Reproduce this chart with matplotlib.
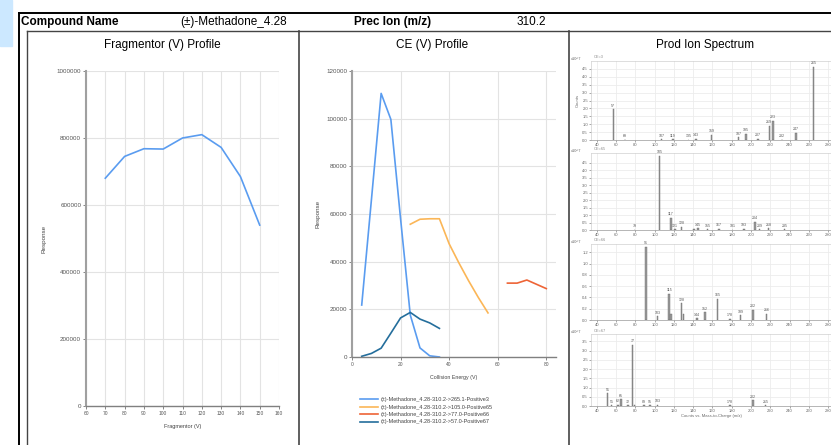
import numpy as np
import matplotlib.pyplot as plt
from matplotlib.lines import Line2D
from matplotlib.patches import Rectangle

plt.rcParams['font.family'] = ['Liberation Sans', 'DejaVu Sans']

W, H = 831, 445

# header
compound = "(±)-Methadone_4.28"
prec_ion = "310.2"

# fragmentor profile
frag_v = [70, 80, 90, 100, 110, 120, 130, 140, 150]
frag_resp = [680000, 745000, 768000, 767000, 800000, 810000, 772000, 685000, 540000]

# CE profiles
ce_names = ["(±)-Methadone_4.28-310.2->265.1-Positive3",
            "(±)-Methadone_4.28-310.2->105.0-Positive65",
            "(±)-Methadone_4.28-310.2->77.0-Positive66",
            "(±)-Methadone_4.28-310.2->57.0-Positive67"]
ce_x = [[4, 8, 12, 16, 20, 24, 28, 32, 36],
        [24, 28, 32, 36, 40, 44, 48, 52, 56],
        [64, 68, 72, 76, 80],
        [4, 8, 12, 16, 20, 24, 28, 32, 36]]
ce_y = [[21800, 66000, 110600, 99700, 58000, 17600, 3800, 500, 0],
        [55700, 57800, 58000, 58000, 47500, 39500, 32000, 25000, 18500],
        [31000, 31000, 32300, 30500, 28700],
        [300, 1500, 3700, 10000, 16400, 18700, 15900, 14300, 12000]]
ce_colors = ["#5a9cf0", "#fbb657", "#ee6436", "#246e9c"]

# product ion spectra (x10^7 counts)
s1_mz = [57, 69, 107, 119, 135, 143, 159, 187, 195, 207, 219, 223, 232, 247, 265]
s1_int = [1.95, 0.03, 0.05, 0.05, 0.03, 0.06, 0.34, 0.17, 0.40, 0.06, 0.89, 1.23, 0.03, 0.45, 4.65]
s2_mz = [79, 105, 117, 121, 128, 141, 145, 155, 167, 181, 193, 204, 209, 218, 235]
s2_int = [0.03, 4.95, 0.82, 0.06, 0.22, 0.08, 0.12, 0.04, 0.10, 0.03, 0.08, 0.55, 0.05, 0.12, 0.04]
s3_mz = [91, 103, 115, 117, 128, 130, 144, 152, 165, 178, 189, 202, 216]
s3_int = [1.30, 0.07, 0.47, 0.10, 0.30, 0.10, 0.03, 0.14, 0.38, 0.02, 0.08, 0.18, 0.11]
s4_mz = [51, 55, 62, 65, 72, 77, 79, 89, 95, 103, 178, 202, 215]
s4_int = [0.69, 0.03, 0.08, 0.38, 0.04, 3.31, 0.05, 0.04, 0.04, 0.06, 0.03, 0.31, 0.05]
# peaks that carry a label in each spectrum
s1_lab = [57, 69, 107, 119, 135, 143, 159, 187, 195, 207, 219, 223, 232, 247, 265]
s2_lab = [79, 105, 117, 121, 128, 145, 155, 167, 181, 193, 204, 209, 218, 235]
s3_lab = [91, 103, 115, 128, 144, 152, 165, 178, 189, 202, 216]
s4_lab = [51, 55, 62, 65, 72, 77, 89, 95, 103, 178, 202, 215]
spectra = [(s1_mz, s1_int, s1_lab, "CE=3", np.arange(0, 5.0, 0.5), 5.0),
           (s2_mz, s2_int, s2_lab, "CE=65", np.arange(0, 5.0, 0.5), 5.15),
           (s3_mz, s3_int, s3_lab, "CE=66", np.arange(0, 1.3, 0.2), 1.35),
           (s4_mz, s4_int, s4_lab, "CE=67", np.arange(0, 4.0, 0.5), 3.9)]


def box(x0, y0, x1, y1):
    return [x0 / W, 1 - y1 / H, (x1 - x0) / W, (y1 - y0) / H]


def fx(x):
    return x / W


def fy(y):
    return 1 - y / H


fig = plt.figure(figsize=(W / 100, H / 100), dpi=100)
fig.patches.append(Rectangle((0, fy(46)), fx(12), 46 / H, transform=fig.transFigure,
                             color="#cce8ff", zorder=0))

# table lines
for xs, ys, lw, c in [((19, 831), (13, 13), 1.4, "black"),
                      ((19, 19), (13, 445), 1.4, "black"),
                      ((27, 831), (31, 31), 1.0, "#444444"),
                      ((27, 27), (31, 445), 1.0, "#444444"),
                      ((299, 299), (31, 445), 1.2, "#444444"),
                      ((569, 569), (31, 445), 1.2, "#444444")]:
    fig.add_artist(Line2D([fx(xs[0]), fx(xs[1])], [fy(ys[0]), fy(ys[1])],
                          transform=fig.transFigure, lw=lw, color=c))

fig.text(fx(21), fy(22), "Compound Name", fontsize=8.5, fontweight="bold", va="center")
fig.text(fx(180), fy(22), compound, fontsize=8.5, va="center")
fig.text(fx(354), fy(22), "Prec Ion (m/z)", fontsize=8.5, fontweight="bold", va="center")
fig.text(fx(517), fy(22), prec_ion, fontsize=8.5, va="center")
fig.text(fx(162), fy(45), "Fragmentor (V) Profile", fontsize=8.5, ha="center", va="center")
fig.text(fx(432), fy(45), "CE (V) Profile", fontsize=8.5, ha="center", va="center")
fig.text(fx(705), fy(45), "Prod Ion Spectrum", fontsize=8.5, ha="center", va="center")


def style_profile(ax):
    ax.grid(True, color="#e3e3e3", lw=0.8)
    ax.set_axisbelow(True)
    for s in ["top", "right"]:
        ax.spines[s].set_visible(False)
    ax.spines["left"].set_color("#a0a0a0")
    ax.spines["left"].set_linewidth(1.5)
    ax.spines["bottom"].set_color("#808080")
    ax.spines["bottom"].set_linewidth(1.0)
    ax.tick_params(length=2, width=0.5, colors="#555555", pad=1.5)
    ax.ticklabel_format(style="plain", axis="y", useOffset=False)


# fragmentor
ax1 = fig.add_axes(box(86, 71, 279, 406))
ax1.plot(frag_v, frag_resp, color="#5a9cf0", lw=1.2)
ax1.set_xlim(60, 160)
ax1.set_ylim(0, 1000000)
ax1.set_xticks(np.arange(60, 161, 10))
ax1.set_yticks(np.arange(0, 1000001, 200000))
style_profile(ax1)
ax1.tick_params(axis="y", labelsize=4.5)
ax1.tick_params(axis="x", labelsize=3.5)
ax1.set_xlabel("Fragmentor (V)", fontsize=4, color="#444444", labelpad=6)
ax1.set_ylabel("Response", fontsize=4.5, color="#444444", labelpad=7)

# CE profile
ax2 = fig.add_axes(box(352, 71, 556, 357))
for xs, ys, c, n in zip(ce_x, ce_y, ce_colors, ce_names):
    ax2.plot(xs, ys, color=c, lw=1.2, label=n)
ax2.set_xlim(0, 84)
ax2.set_ylim(0, 120000)
ax2.set_xticks([0, 20, 40, 60, 80])
ax2.set_yticks(np.arange(0, 120001, 20000))
style_profile(ax2)
ax2.tick_params(axis="y", labelsize=4.5)
ax2.tick_params(axis="x", labelsize=3.5)
ax2.set_xlabel("Collision Energy (V)", fontsize=3.8, color="#444444", labelpad=6)
ax2.set_ylabel("Response", fontsize=4.5, color="#444444", labelpad=4)
fig.legend(*ax2.get_legend_handles_labels(), loc="upper left",
           bbox_to_anchor=(fx(355), fy(392)), frameon=False, fontsize=4,
           handlelength=3.2, labelspacing=0.45, handletextpad=0.6,
           labelcolor="#444444")

# spectra
rows = [(61, 140), (153, 230), (244, 320), (334, 406)]
for i, ((mz, inten, lab, head, yt, ytop), (y0, y1)) in enumerate(zip(spectra, rows)):
    ax = fig.add_axes(box(591, y0, 831, y1))
    ax.bar(mz, inten, width=1.6, color="#9a9a9a", edgecolor="#6a6a6a", lw=0.3)
    for m, v in zip(mz, inten):
        if m in lab:
            ax.text(m, v + ytop * 0.02, str(m), fontsize=2.6, ha="center",
                    va="bottom", color="#555555")
    ax.set_xlim(33.8, 283.1)
    ax.set_ylim(0, ytop)
    ax.set_xticks(np.arange(40, 281, 20))
    ax.set_yticks(yt)
    ax.set_yticklabels(["%.1f" % v for v in yt])
    ax.grid(True, color="#ececec", lw=0.6)
    ax.set_axisbelow(True)
    for s in ax.spines.values():
        s.set_color("#d0d0d0")
        s.set_linewidth(0.5)
    ax.spines["bottom"].set_color("#999999")
    ax.tick_params(labelsize=3, length=1.2, width=0.4, colors="#666666", pad=1)
    ax.text(-0.06, 1.0, "x10^7", transform=ax.transAxes, fontsize=2.8,
            color="#666666", ha="center", va="bottom")
    ax.text(0.01, 1.02, head, transform=ax.transAxes, fontsize=2.8,
            color="#888888", ha="left", va="bottom")
    if i == 0:
        ax.set_ylabel("Counts", fontsize=3, color="#666666", labelpad=2)
    if i == 3:
        ax.set_xlabel("Counts vs. Mass-to-Charge (m/z)", fontsize=3, color="#666666",
                      labelpad=0.5)

fig.savefig("out.png", dpi=100)
